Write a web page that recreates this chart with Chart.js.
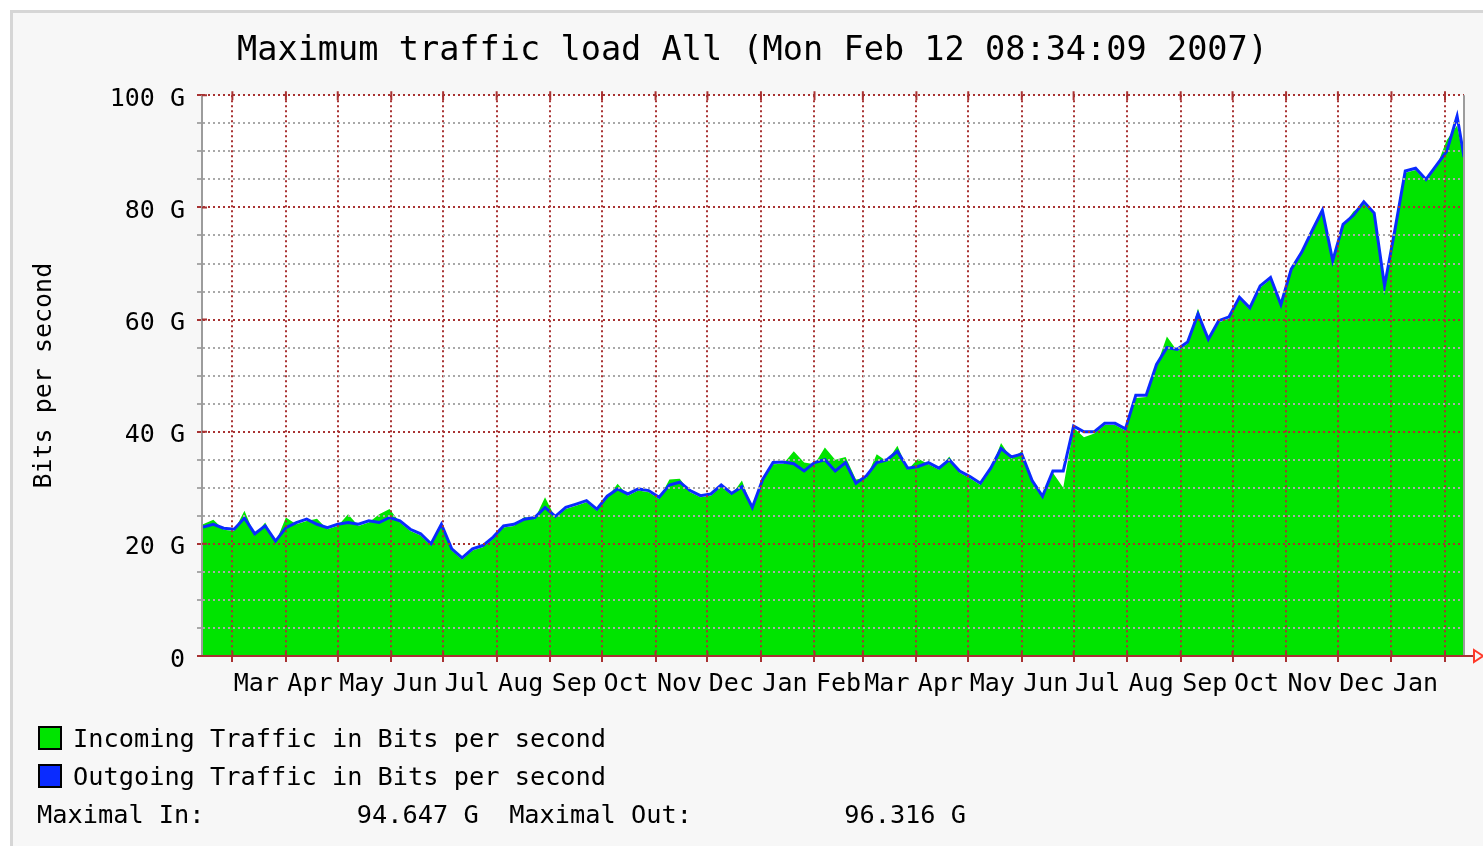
<!DOCTYPE html>
<html>
<head>
<meta charset="utf-8">
<title>Maximum traffic load All</title>
<script src="https://cdn.jsdelivr.net/npm/chart.js@4.4.1/dist/chart.umd.min.js"></script>
<style>
  body { margin: 0; width: 1483px; height: 846px; overflow: hidden; position: relative; background: #fff; font-family: 'DejaVu Sans Mono', monospace; }
  #frame { position: absolute; left: 10px; top: 10px; right: 0; bottom: 0; background: #f7f7f7; border-left: 3px solid #d6d6d6; border-top: 3px solid #d6d6d6; }
  canvas { position: absolute; left: 0; top: 0; }
  .lg { position: absolute; font-size: 25.3px; line-height: 30px; color: #000; white-space: pre; }
  .box { position: absolute; width: 20px; height: 20px; border: 2px solid #000; }
</style>
</head>
<body>
<div id="frame"></div>
<canvas id="myChart" width="1483" height="846"></canvas>
<div class="box" style="left:38px;top:726px;background:#00e400"></div>
<div class="lg" style="left:73px;top:724px">Incoming Traffic in Bits per second</div>
<div class="box" style="left:38px;top:764px;background:#0a2bff"></div>
<div class="lg" style="left:73px;top:762px">Outgoing Traffic in Bits per second</div>
<div class="lg" style="left:37px;top:800px">Maximal In:          94.647 G  Maximal Out:          96.316 G</div>
<script>
// days since Feb 12 2005 (one sample about every 6 days)
const sampleDays = [
  0, 6, 12, 18, 24, 30, 36, 42, 48, 54, 60, 66, 72, 78, 84, 90, 96, 102, 108, 114,
  120, 126, 132, 138, 144, 150, 156, 162, 168, 174, 180, 186, 192, 198, 204, 210, 216, 222, 228, 234,
  240, 246, 252, 258, 264, 270, 276, 282, 288, 294, 300, 306, 312, 318, 324, 330, 336, 342, 348, 354,
  360, 366, 372, 378, 384, 390, 396, 402, 408, 414, 420, 426, 432, 438, 444, 450, 456, 462, 468, 474,
  480, 486, 492, 498, 504, 510, 516, 522, 528, 534, 540, 546, 552, 558, 564, 570, 576, 582, 588, 594,
  600, 606, 612, 618, 624, 630, 636, 642, 648, 654, 660, 666, 672, 678, 684, 690, 696, 702, 708, 714,
  720, 726, 730
];

// incoming traffic, G bit/s (green area)
const incoming = [
  23.5, 24.3, 22.5, 22.3, 25.9, 21.5, 23.8, 20.2, 24.7, 23.5, 24.1, 24.5, 22.6, 23.2, 25.3, 23.2, 23.8, 25.3, 26.2, 23.8,
  22.3, 21.5, 19.7, 23.8, 18.8, 17.2, 18.8, 19.4, 20.9, 22.9, 23.2, 24.8, 24.4, 28.3, 24.6, 26.2, 26.8, 27.4, 25.9, 28.2,
  30.7, 28.6, 29.5, 29.2, 28.0, 31.5, 31.6, 29.2, 28.3, 28.6, 30.2, 28.7, 31.3, 26.2, 31.2, 34.2, 34.3, 36.5, 34.5, 34.2,
  37.2, 35.0, 35.5, 31.5, 31.8, 36.0, 34.7, 37.5, 33.2, 35.2, 34.2, 33.2, 35.6, 32.7, 31.7, 30.5, 33.2, 38.0, 35.2, 36.5,
  31.0, 28.2, 32.7, 30.0, 40.7, 39.0, 39.7, 41.2, 41.2, 40.2, 46.0, 46.2, 51.7, 57.0, 54.4, 55.7, 62.0, 56.2, 59.5, 60.2,
  63.7, 61.8, 65.7, 67.2, 62.4, 68.7, 71.7, 75.5, 79.2, 70.0, 76.7, 79.3, 80.7, 78.7, 65.0, 75.7, 86.2, 86.7, 84.7, 87.2,
  92.0, 94.6, 88.5
];

// outgoing traffic, G bit/s (blue line)
const outgoing = [
  23.0, 23.5, 22.8, 22.6, 24.6, 21.8, 23.2, 20.5, 22.9, 23.8, 24.4, 23.5, 22.9, 23.5, 23.8, 23.5, 24.1, 23.8, 24.7, 24.1,
  22.6, 21.8, 20.0, 23.5, 19.1, 17.5, 19.1, 19.7, 21.2, 23.2, 23.5, 24.4, 24.7, 26.5, 24.9, 26.5, 27.1, 27.7, 26.2, 28.5,
  29.8, 28.9, 29.8, 29.5, 28.3, 30.5, 31.0, 29.5, 28.6, 28.9, 30.5, 29.0, 30.2, 26.5, 31.5, 34.5, 34.6, 34.3, 33.0, 34.5,
  35.0, 33.0, 34.5, 30.8, 32.1, 34.5, 35.0, 36.5, 33.5, 33.8, 34.5, 33.5, 35.0, 33.0, 32.0, 30.8, 33.5, 37.0, 35.5, 36.0,
  31.3, 28.5, 33.0, 33.0, 41.0, 40.0, 40.0, 41.5, 41.5, 40.5, 46.5, 46.5, 52.0, 55.0, 54.7, 56.0, 61.0, 56.5, 59.8, 60.5,
  64.0, 62.1, 66.0, 67.5, 62.7, 69.0, 72.0, 75.8, 79.5, 70.5, 77.0, 78.6, 81.0, 79.0, 66.0, 76.0, 86.5, 87.0, 85.0, 87.5,
  90.0, 96.3, 89.0
];

// month boundaries (days since Feb 12 2005) and the label shown after each
const monthStarts = [17, 48, 78, 109, 139, 170, 201, 231, 262, 292, 323, 354,
  382, 413, 443, 474, 504, 535, 566, 596, 627, 657, 688, 719];
const monthLabels = ['Mar', 'Apr', 'May', 'Jun', 'Jul', 'Aug', 'Sep', 'Oct', 'Nov', 'Dec', 'Jan', 'Feb',
  'Mar', 'Apr', 'May', 'Jun', 'Jul', 'Aug', 'Sep', 'Oct', 'Nov', 'Dec', 'Jan', ''];

const RED = '#a83232';
const GRAY = '#a9a9a9';
const monoFont = { family: 'DejaVu Sans Mono', size: 25, weight: 'normal' };

/* plot background + the solid axis lines MRTG draws */
const mrtgFrame = {
  id: 'mrtgFrame',
  beforeDraw(chart) {
    const { ctx, chartArea: a } = chart;
    ctx.save();
    ctx.fillStyle = '#fff';
    ctx.fillRect(a.left, a.top, a.right - a.left, a.bottom - a.top);
    ctx.restore();
  },
  afterDraw(chart) {
    const { ctx, chartArea: a, scales } = chart;
    ctx.save();
    ctx.lineWidth = 2;
    // left and right gray axes
    ctx.strokeStyle = '#9c9c9c';
    ctx.beginPath();
    ctx.moveTo(a.left - 1, a.top);
    ctx.lineTo(a.left - 1, a.bottom);
    ctx.moveTo(a.right, a.top);
    ctx.lineTo(a.right, a.bottom);
    ctx.stroke();
    // red crosses on month lines (top) and major y lines (left)
    ctx.strokeStyle = RED;
    ctx.beginPath();
    scales.x.ticks.forEach((t) => {
      const x = scales.x.getPixelForValue(t.value);
      ctx.moveTo(x, a.top - 4);
      ctx.lineTo(x, a.top + 5);
      ctx.moveTo(x, a.bottom - 5);
      ctx.lineTo(x, a.bottom);
    });
    scales.y.ticks.forEach((t) => {
      const y = scales.y.getPixelForValue(t.value);
      if (t.value % 20 === 0) {
        ctx.moveTo(a.left - 1, y);
        ctx.lineTo(a.left + 4, y);
      }
    });
    ctx.stroke();
    // bottom axis with arrow
    ctx.beginPath();
    ctx.moveTo(a.left - 6, a.bottom);
    ctx.lineTo(a.right + 10, a.bottom);
    ctx.stroke();
    ctx.strokeStyle = '#ff3a2a';
    ctx.beginPath();
    ctx.moveTo(a.right + 10, a.bottom - 6);
    ctx.lineTo(a.right + 10, a.bottom + 6);
    ctx.lineTo(a.right + 19, a.bottom);
    ctx.closePath();
    ctx.stroke();
    ctx.restore();
  },
};

const ctx = document.getElementById('myChart');

new Chart(ctx, {
  type: 'line',
  data: {
    datasets: [
      {
        label: 'Outgoing Traffic in Bits per second',
        data: sampleDays.map((d, i) => ({ x: d, y: outgoing[i] })),
        borderColor: '#0a2bff',
        borderWidth: 3,
        fill: false,
        pointRadius: 0,
        tension: 0,
      },
      {
        label: 'Incoming Traffic in Bits per second',
        data: sampleDays.map((d, i) => ({ x: d, y: incoming[i] })),
        borderWidth: 0,
        backgroundColor: '#00e400',
        fill: 'origin',
        pointRadius: 0,
        tension: 0,
      },
    ],
  },
  options: {
    responsive: false,
    animation: false,
    events: [],
    layout: { padding: { left: 41, right: 19, top: 0, bottom: 0 } },
    plugins: {
      legend: { display: false },
      tooltip: { enabled: false },
      title: {
        display: true,
        text: 'Maximum traffic load All (Mon Feb 12 08:34:09 2007)',
        color: '#000',
        font: { family: 'DejaVu Sans Mono', size: 33.6, weight: 'normal', lineHeight: 1.2 },
        padding: { top: 31, bottom: 24 },
      },
    },
    scales: {
      x: {
        type: 'linear',
        min: 0,
        max: 730,
        afterBuildTicks: (scale) => {
          scale.ticks = monthStarts.map((v) => ({ value: v }));
        },
        afterFit: (scale) => {
          scale.height = 190;
        },
        ticks: {
          callback: (value, index) => monthLabels[index],
          labelOffset: 24,
          autoSkip: false,
          maxRotation: 0,
          minRotation: 0,
          padding: 7,
          color: '#000',
          font: monoFont,
        },
        grid: {
          color: RED,
          lineWidth: 2,
          z: 1,
          tickColor: RED,
          tickLength: 6,
          tickWidth: 2,
        },
        border: { display: false, dash: [2, 3] },
      },
      y: {
        min: 0,
        max: 100,
        afterFit: (scale) => {
          scale.width = 162;
        },
        ticks: {
          stepSize: 5,
          autoSkip: false,
          padding: 12,
          labelOffset: 4,
          color: '#000',
          font: monoFont,
          callback: (value) => (value % 20 === 0 ? (value === 0 ? '0' : value + ' G') : ''),
        },
        grid: {
          color: (c) => (c.tick && c.tick.value % 20 === 0 ? RED : GRAY),
          tickColor: (c) => (c.tick && c.tick.value % 20 === 0 ? RED : GRAY),
          lineWidth: 2,
          z: 1,
          tickLength: 6,
          tickWidth: 2,
        },
        border: { display: false, dash: [2, 3] },
        title: {
          display: true,
          text: 'Bits per second',
          color: '#000',
          font: monoFont,
          padding: { top: -12, bottom: 0 },
        },
      },
    },
  },
  plugins: [mrtgFrame],
});
</script>
</body>
</html>
